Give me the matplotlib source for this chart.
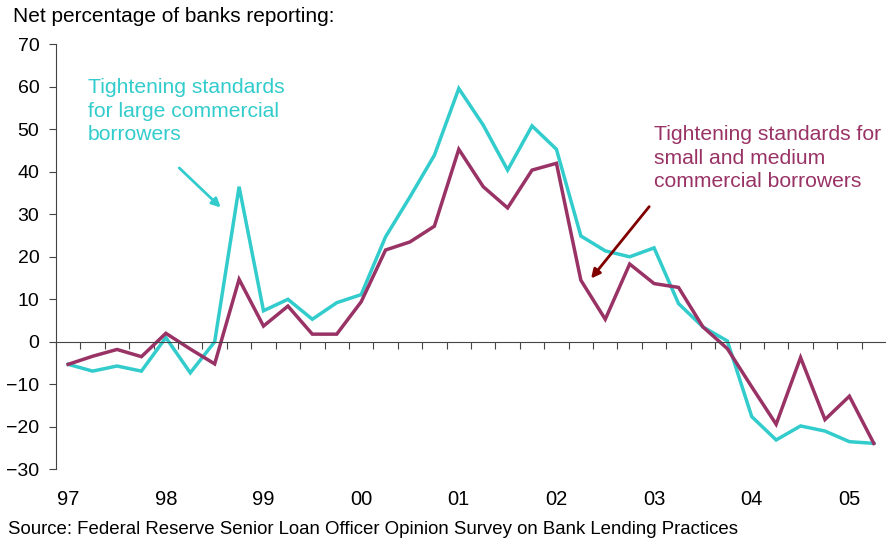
import numpy as np
import matplotlib
matplotlib.use("Agg")
import matplotlib.pyplot as plt
import matplotlib.transforms as mtransforms

plt.rcParams['font.family'] = ['Liberation Sans', 'DejaVu Sans']

# quarterly, 1997Q1 .. 2005Q2
large = [-5.3, -6.9, -5.7, -6.9, 1.0, -7.3, 0.0, 36.5,
         7.3, 10.0, 5.3, 9.2, 11.1, 24.7, 34.1, 43.9,
         59.6, 51.0, 40.4, 50.8, 45.3, 24.9, 21.4, 20.0,
         22.1, 9.0, 3.5, 0.2, -17.6, -23.1, -19.8, -21.0,
         -23.5, -23.9]
small = [-5.3, -3.4, -1.8, -3.5, 2.0, -1.7, -5.2, 14.7,
         3.7, 8.4, 1.8, 1.8, 9.4, 21.6, 23.5, 27.2,
         45.3, 36.5, 31.5, 40.4, 42.0, 14.5, 5.3, 18.3,
         13.7, 12.8, 3.5, -1.6, -10.6, -19.4, -3.7, -18.3,
         -12.8, -23.9]
year_labels = ['97', '98', '99', '00', '01', '02', '03', '04', '05']
yticks = [70, 60, 50, 40, 30, 20, 10, 0, -10, -20, -30]

CYAN = '#33CCCC'
MAGENTA = '#993366'

x = np.arange(len(large))

fig = plt.figure(figsize=(8.86, 5.42), dpi=100)
ax = fig.add_axes([56/886, 1-469.3/542, 830/886, (469.3-44.3)/542])

ax.plot(x, large, color=CYAN, lw=2.5, solid_joinstyle='miter')
ax.plot(x, small, color=MAGENTA, lw=2.5, solid_joinstyle='miter')

ax.set_xlim(-0.5, len(x) - 0.5)
ax.set_ylim(-30, 70)
ax.set_yticks(yticks)
ax.tick_params(axis='y', direction='out', length=5, width=0.8, pad=7,
               labelsize=14, colors='#444444', labelcolor='black')

for s in ['top', 'right']:
    ax.spines[s].set_visible(False)
ax.spines['left'].set_color('#444444')
ax.spines['bottom'].set_position(('data', 0))
ax.spines['bottom'].set_color('#444444')
ax.set_xticks(np.arange(0, len(x)) - 0.5)
ax.tick_params(axis='x', direction='out', length=5, width=0.8,
               labelbottom=False, colors='#444444')

trans = mtransforms.blended_transform_factory(ax.transData, ax.transAxes)
for i, lab in enumerate(year_labels):
    ax.text(i * 4, -0.072, lab, transform=trans, ha='center', va='center',
            fontsize=14.5)

fig.text(13/886, 1-16.5/542, 'Net percentage of banks reporting:',
         ha='left', va='center', fontsize=15)
fig.text(8/886, 1-530/542,
         'Source: Federal Reserve Senior Loan Officer Opinion Survey on Bank Lending Practices',
         ha='left', va='center', fontsize=13.4)

# labels
ax.text(0.8, 62.0, 'Tightening standards\nfor large commercial\nborrowers',
        color=CYAN, fontsize=15.2, ha='left', va='top', linespacing=1.3)
ax.text(24.0, 51.0, 'Tightening standards for\nsmall and medium\ncommercial borrowers',
        color=MAGENTA, fontsize=15.2, ha='left', va='top', linespacing=1.3)

# arrows
ax.annotate('', xy=(6.25, 31.6), xytext=(4.55, 40.9),
            arrowprops=dict(arrowstyle='-|>', color=CYAN, lw=2,
                            mutation_scale=13, shrinkA=0, shrinkB=0))
ax.annotate('', xy=(21.42, 14.9), xytext=(23.8, 31.8),
            arrowprops=dict(arrowstyle='-|>', color='#800000', lw=2,
                            mutation_scale=13, shrinkA=0, shrinkB=0))

fig.savefig('out.png', dpi=100)
